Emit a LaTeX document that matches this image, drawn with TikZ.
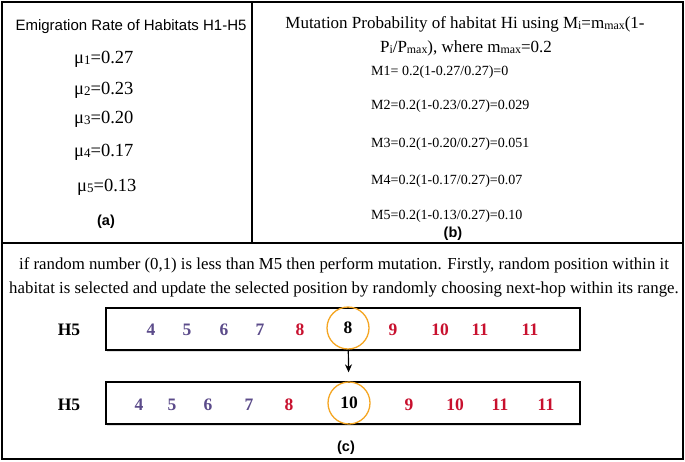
\documentclass[tikz,border=0pt]{standalone}
\usepackage{fontspec}
\usepackage{graphicx}
\usepackage{xcolor}
\usetikzlibrary{arrows.meta, shadows}
\setmainfont{Liberation Serif}
\newfontfamily\arialfont{Liberation Sans}
\definecolor{numpurple}{HTML}{5B4B8A}
\definecolor{numred}{HTML}{C8102E}
\definecolor{ringorange}{HTML}{F5A623}
\newcommand{\sbs}[1]{\raisebox{-0.1em}{\scalebox{0.7}{#1}}}
\tikzset{
  sizefont/.style={font=\fontsize{#1}{#1}\selectfont},
  captxt/.style={font=\arialfont\bfseries\fontsize{14.5}{14.5}\selectfont},
  numtxt/.style={font=\bfseries\fontsize{17.5}{17.5}\selectfont, inner sep=0pt},
  rowbox/.style={draw, line width=1.3pt, fill=white, minimum width=474pt, minimum height=42pt,
    drop shadow={shadow xshift=1pt, shadow yshift=-1.5pt, opacity=0.25}},
  ringnode/.style={circle, draw=ringorange, line width=1.3pt, minimum size=42pt, inner sep=0pt}
}

\begin{document}
\begin{tikzpicture}[x=1pt, y=-1pt]
  \useasboundingbox (0,0) rectangle (685,461);
  \draw[line width=1.6pt] (2,2) rectangle (683,459);
  \draw[line width=1.4pt] (252,2) -- (252,243);
  \draw[line width=1.4pt] (2,243) -- (683,243);

  % (a)
  \node[font=\arialfont\fontsize{15}{15}\selectfont, anchor=base] (emtitle) at (131,30) {Emigration Rate of Habitats H1-H5};
  \foreach \yy/\k/\val [count=\i] in {63/1/0.27, 94/2/0.23, 123/3/0.20, 156/4/0.17}
    \node[sizefont=18.5, anchor=base west, inner sep=0pt] (mu\i) at (74,\yy) {μ\sbs{\k}=\val};
  \node[sizefont=18.5, anchor=base west, inner sep=0pt] (mu5) at (77,191) {μ\sbs{5}=0.13};
  \node[captxt] (capa) at (106,222) {(a)};

  % (b)
  \node[sizefont=17, anchor=base] (mutitle1) at (465,28) {Mutation Probability of habitat Hi using M\sbs{i}=m\sbs{max}(1-};
  \node[sizefont=17, anchor=base] (mutitle2) at (466,52) {P\sbs{i}/P\sbs{max}), where m\sbs{max}=0.2};
  \node[sizefont=14, anchor=base west, inner sep=0pt] (m1) at (371,75) {M1= 0.2(1-0.27/0.27)=0};
  \node[sizefont=14, anchor=base west, inner sep=0pt] (m2) at (371,109) {M2=0.2(1-0.23/0.27)=0.029};
  \node[sizefont=14, anchor=base west, inner sep=0pt] (m3) at (371,147) {M3=0.2(1-0.20/0.27)=0.051};
  \node[sizefont=14, anchor=base west, inner sep=0pt] (m4) at (371,184) {M4=0.2(1-0.17/0.27)=0.07};
  \node[sizefont=14, anchor=base west, inner sep=0pt] (m5) at (371,219) {M5=0.2(1-0.13/0.27)=0.10};
  \node[captxt] (capb) at (453,234) {(b)};

  % (c)
  \node[sizefont=16.8, anchor=base] (para1) at (344,269) {if random number (0,1) is less than M5 then perform mutation. Firstly, random position within it};
  \node[sizefont=16.8, anchor=base] (para2) at (344,293) {habitat is selected and update the selected position by randomly choosing next-hop within its range.};

  \node[rowbox] (row1) at (343,329) {};
  \node[rowbox] (row2) at (343,403) {};
  \node[numtxt] (h5a) at (69,330) {H5};
  \node[numtxt] (h5b) at (69,405) {H5};
  \foreach \px/\val/\col [count=\i] in {151/4/numpurple, 187/5/numpurple, 224/6/numpurple, 260/7/numpurple,
      300/8/numred, 393/9/numred, 440/10/numred, 480/11/numred, 530/11/numred}
    \node[numtxt, text=\col] (oa\i) at (\px,330) {\val};
  \foreach \px/\val/\col [count=\i] in {139/4/numpurple, 172/5/numpurple, 208/6/numpurple, 249/7/numpurple,
      289/8/numred, 409/9/numred, 455/10/numred, 500/11/numred, 546/11/numred}
    \node[numtxt, text=\col] (ob\i) at (\px,405) {\val};
  \node[ringnode, numtxt] (pick1) at (348,328) {8};
  \node[ringnode, numtxt] (pick2) at (349,403) {10};
  \draw[-{Stealth[length=8pt, width=7pt]}, line width=1.2pt, shorten >=9pt] (pick1) -- (pick2);
  \node[captxt] (capc) at (346,448) {(c)};
\end{tikzpicture}
\end{document}
